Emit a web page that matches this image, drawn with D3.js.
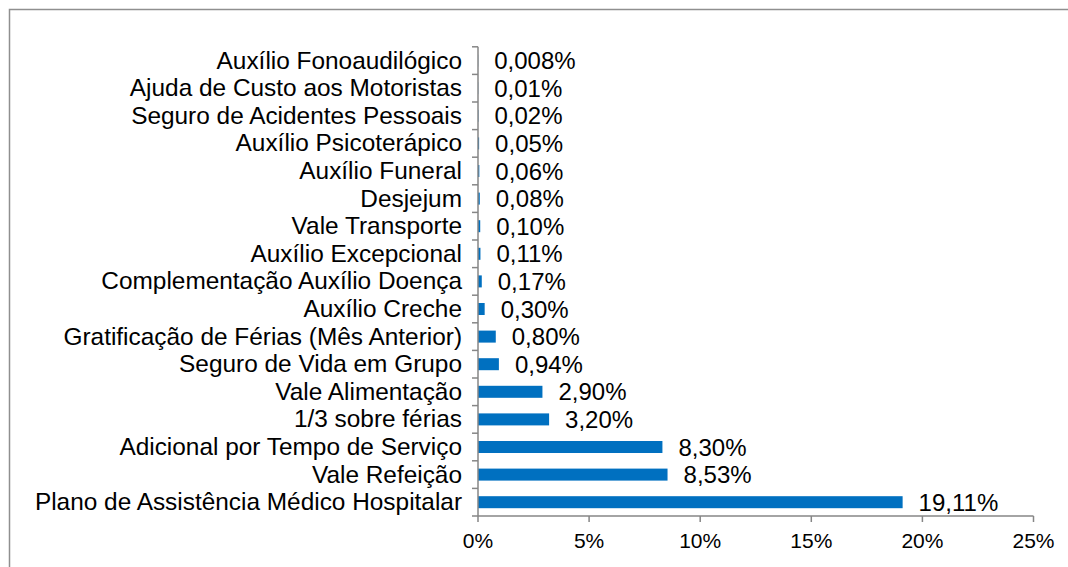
<!DOCTYPE html>
<html>
<head>
<meta charset="utf-8">
<script src="https://cdn.jsdelivr.net/npm/d3@7"></script>
<style>
  html, body { margin: 0; padding: 0; background: #fff; }
  svg { display: block; font-family: "Liberation Sans", Arial, sans-serif; }
</style>
</head>
<body>
<svg id="chart" width="1068" height="567"></svg>
<script>
const categories = [
  "Auxílio Fonoaudilógico",
  "Ajuda de Custo aos Motoristas",
  "Seguro de Acidentes Pessoais",
  "Auxílio Psicoterápico",
  "Auxílio Funeral",
  "Desjejum",
  "Vale Transporte",
  "Auxílio Excepcional",
  "Complementação Auxílio Doença",
  "Auxílio Creche",
  "Gratificação de Férias (Mês Anterior)",
  "Seguro de Vida em Grupo",
  "Vale Alimentação",
  "1/3 sobre férias",
  "Adicional por Tempo de Serviço",
  "Vale Refeição",
  "Plano de Assistência Médico Hospitalar"
];
const values = [0.008, 0.01, 0.02, 0.05, 0.06, 0.08, 0.10, 0.11, 0.17, 0.30, 0.80, 0.94, 2.90, 3.20, 8.30, 8.53, 19.11];
const valueLabels = ["0,008%", "0,01%", "0,02%", "0,05%", "0,06%", "0,08%", "0,10%", "0,11%", "0,17%", "0,30%", "0,80%", "0,94%", "2,90%", "3,20%", "8,30%", "8,53%", "19,11%"];
const xTicks = [0, 5, 10, 15, 20, 25];
const xTickLabels = ["0%", "5%", "10%", "15%", "20%", "25%"];

const svg = d3.select("#chart");
const axisColor = "#868686";

// outer frame (only top and left edges visible)
svg.append("path")
  .attr("d", "M9.5,567 L9.5,9.5 L1068,9.5")
  .attr("fill", "none")
  .attr("stroke", "#8f8f8f")
  .attr("stroke-width", 1.5);

const x0 = 478, x1 = 1033.5;
const yTop = 46.8, yBottom = 516;

const x = d3.scaleLinear().domain([0, 25]).range([x0, x1]);
const y = d3.scaleBand()
  .domain(categories)
  .range([yTop, yBottom])
  .paddingInner(0.565)
  .paddingOuter(0.2825);

const step = y.step();

// bars
svg.append("g").selectAll("rect")
  .data(categories)
  .join("rect")
  .attr("x", x(0))
  .attr("y", (d) => y(d))
  .attr("width", (d, i) => Math.max(0, x(values[i]) - x(0)))
  .attr("height", y.bandwidth())
  .attr("fill", "#0070C0");

// y axis line and ticks at band boundaries
const gy = svg.append("g");
gy.append("line")
  .attr("x1", x0).attr("x2", x0)
  .attr("y1", yTop).attr("y2", yBottom)
  .attr("stroke", axisColor).attr("stroke-width", 1.5);
const boundaries = d3.range(categories.length + 1).map(i => yTop + i * step);
gy.selectAll("line.tick")
  .data(boundaries)
  .join("line")
  .attr("class", "tick")
  .attr("x1", x0 - 6).attr("x2", x0)
  .attr("y1", d => d).attr("y2", d => d)
  .attr("stroke", axisColor).attr("stroke-width", 1.5);

// category labels
svg.append("g").selectAll("text")
  .data(categories)
  .join("text")
  .attr("x", x0 - 16)
  .attr("y", d => y(d) + y.bandwidth() / 2 + 8)
  .attr("text-anchor", "end")
  .attr("font-size", 24.4)
  .attr("fill", "#000")
  .text(d => d);

// x axis
const gx = svg.append("g");
gx.append("line")
  .attr("x1", x0).attr("x2", x1)
  .attr("y1", yBottom).attr("y2", yBottom)
  .attr("stroke", axisColor).attr("stroke-width", 1.5);
gx.selectAll("line.tick")
  .data(xTicks)
  .join("line")
  .attr("class", "tick")
  .attr("x1", d => x(d)).attr("x2", d => x(d))
  .attr("y1", yBottom).attr("y2", yBottom + 6)
  .attr("stroke", axisColor).attr("stroke-width", 1.5);
gx.selectAll("text")
  .data(xTicks)
  .join("text")
  .attr("x", d => x(d))
  .attr("y", 547.5)
  .attr("text-anchor", "middle")
  .attr("font-size", 21)
  .attr("fill", "#000")
  .text((d, i) => xTickLabels[i]);

// value labels
svg.append("g").selectAll("text")
  .data(categories)
  .join("text")
  .attr("x", (d, i) => x(values[i]) + 16)
  .attr("y", d => y(d) + y.bandwidth() / 2 + 8.6)
  .attr("font-size", 24)
  .attr("fill", "#000")
  .text((d, i) => valueLabels[i]);
</script>
</body>
</html>
